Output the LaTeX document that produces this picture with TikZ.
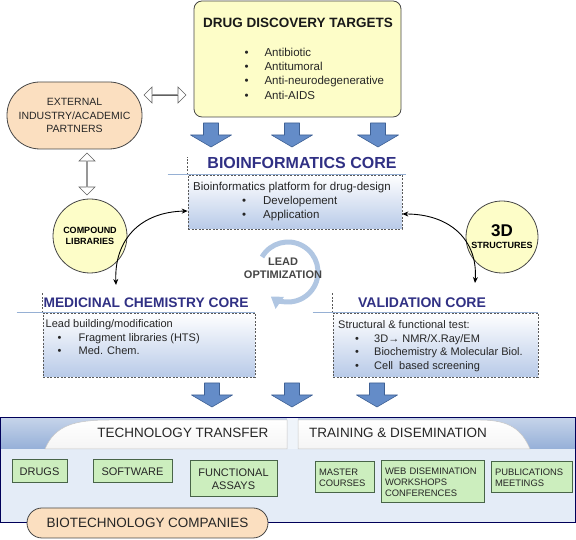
\documentclass[tikz,border=0pt]{standalone}
\usepackage{fontspec}
\setmainfont{Liberation Sans}
\usepackage{tikz}
\usetikzlibrary{arrows.meta,positioning,calc,shapes.arrows}
\definecolor{targetyellow}{RGB}{253,253,200}
\definecolor{partnerpeach}{RGB}{251,223,192}
\definecolor{corenavy}{RGB}{48,48,132}
\definecolor{flowblue}{RGB}{100,140,200}
\definecolor{flowedge}{RGB}{62,96,148}
\definecolor{corefill}{RGB}{184,202,232}
\definecolor{ruleblue}{RGB}{150,176,212}
\definecolor{panelfill}{RGB}{228,236,247}
\definecolor{bandblue}{RGB}{150,176,216}
\definecolor{outgreen}{RGB}{204,238,190}
\definecolor{outedge}{RGB}{72,100,72}
\definecolor{leadring}{RGB}{176,198,226}
\definecolor{darkgray}{RGB}{70,70,70}
\newcommand{\fsz}[2]{\fontsize{#1}{#2}\selectfont}
\newcommand{\bitem}[2][18pt]{\makebox[#1][l]{\textbullet}#2}

\begin{document}
\begin{tikzpicture}[
  x=10pt,y=10pt,
  targetbox/.style={
    rectangle,
    rounded corners=8pt,
    draw=darkgray,
    line width=.8pt,
    fill=targetyellow,
    minimum width=207pt,
    minimum height=116pt
  },
  bigtitle/.style={
    font=\fsz{13.5}{16}\bfseries,
    text=black!90
  },
  partner/.style={
    rectangle,
    rounded corners=33pt,
    draw=darkgray,
    line width=.8pt,
    fill=partnerpeach,
    align=center,
    font=\fsz{10.5}{13.5},
    text=black!85
  },
  libcircle/.style={
    circle,
    draw=darkgray,
    line width=.8pt,
    fill=targetyellow,
    align=center,
    inner sep=0pt,
    font=\fsz{9}{11}\bfseries
  },
  hollowarrow/.style={
    double arrow,
    draw=gray!75!black,
    fill=white,
    line width=.6pt,
    minimum height=42pt,
    minimum width=16pt,
    double arrow head extend=4pt,
    inner sep=0pt
  },
  flowarrow/.style={
    fill=flowblue,
    draw=flowedge,
    line width=.6pt,
    line join=round
  },
  coretitle/.style={
    font=\fsz{13.8}{16}\bfseries,
    text=corenavy
  },
  corebox/.style={
    rectangle,
    draw=gray!70!black,
    dash pattern=on 2pt off 1.5pt,
    line width=.6pt,
    top color=white,
    bottom color=corefill,
    inner sep=0pt
  },
  coredash/.style={
    draw=gray!70!black,
    dash pattern=on 2pt off 1.5pt,
    line width=.6pt
  },
  titlerule/.style={
    draw=ruleblue,
    line width=1.4pt
  },
  bodytext/.style={
    align=left,
    inner sep=0pt,
    text=black!85,
    font=\fsz{11}{13.5}
  },
  linkarr/.style={
    {Stealth[length=6pt,width=5pt]}-{Stealth[length=6pt,width=5pt]},
    line width=.9pt
  },
  leadarc/.style={
    draw=leadring,
    line width=5pt,
    -{Triangle[length=11pt,width=14pt]}
  },
  leadtext/.style={
    align=center,
    font=\fsz{11}{13}\bfseries,
    text=darkgray
  },
  panel/.style={
    rectangle,
    fill=panelfill,
    minimum width=574pt,
    minimum height=104pt,
    inner sep=0pt
  },
  panelborder/.style={
    draw=black!65!blue,
    line width=.8pt
  },
  tab/.style={
    top color=white,
    bottom color=gray!8,
    draw=gray!45,
    line width=.5pt
  },
  tabtext/.style={
    font=\fsz{13.5}{16},
    text=black!85
  },
  outbox/.style={
    rectangle,
    draw=outedge,
    line width=1pt,
    fill=outgreen,
    inner sep=0pt,
    align=center,
    font=\fsz{11}{13},
    text=black!85
  },
  outboxsmall/.style={
    outbox,
    align=left,
    font=\fsz{9.4}{10.8},
    inner xsep=4pt
  },
  company/.style={
    rectangle,
    rounded corners=15pt,
    draw=darkgray,
    line width=.8pt,
    fill=partnerpeach,
    minimum width=241pt,
    minimum height=30pt,
    font=\fsz{13.5}{16},
    text=black!85
  }
]

\useasboundingbox (0,0) rectangle (57.60,54.00);

% drug discovery targets
\node[targetbox] (targets) at (29.75,48.10) {};
\node[bigtitle] (targetstitle) at (29.80,51.70) {DRUG DISCOVERY TARGETS};
\node[bodytext,anchor=west,font=\fsz{11.5}{14.3}] (targetlist) at (24.43,46.65)
  {\bitem[20pt]{Antibiotic}\\ \bitem[20pt]{Antitumoral}\\
   \bitem[20pt]{Anti-neurodegenerative}\\ \bitem[20pt]{Anti-AIDS}};

% partners and links
\node[partner,minimum width=135pt,minimum height=67pt] (partners) at (7.45,42.45)
  {EXTERNAL\\INDUSTRY/ACADEMIC\\PARTNERS};
\node[hollowarrow] (partnerlink) at (16.50,44.50) {};
\node[hollowarrow,shape border rotate=90] (librarylink) at (8.70,36.60) {};

\node[libcircle,minimum size=74pt] (compound) at (9.00,30.40) {COMPOUND\\LIBRARIES};
\node[libcircle,minimum size=72pt] (structures) at (50.20,30.30)
  {{\fsz{17}{17}3D}\\[1pt]STRUCTURES};

% flow arrows
\foreach \x/\n in {21.10/1,29.20/2,37.80/3}{
  \coordinate (topflow\n) at (\x,40.50);
  \filldraw[flowarrow] ($(topflow\n)+(-0.75,1.2)$) -- ++(1.5,0) -- ++(0,-1.2) -- ++(1.3,0)
    -- ++(-2.05,-1.2) -- ++(-2.05,1.2) -- ++(1.3,0) -- cycle;
}
\foreach \x/\n in {21.20/1,29.20/2,37.70/3}{
  \coordinate (lowflow\n) at (\x,14.50);
  \filldraw[flowarrow] ($(lowflow\n)+(-0.75,1.2)$) -- ++(1.5,0) -- ++(0,-1.2) -- ++(1.3,0)
    -- ++(-2.05,-1.2) -- ++(-2.05,1.2) -- ++(1.3,0) -- cycle;
}

% bioinformatics core
\node[corebox,minimum width=214pt,minimum height=54pt] (biobox) at (29.50,33.80) {};
\draw[coredash] (biobox.north west) -- ++(0,1.8);
\draw[titlerule] ($(biobox.north west)+(-2.0,0)$) -- ($(biobox.north east)+(0.4,0)$);
\node[coretitle,font=\fsz{16}{18}\bfseries] (biotitle) at (30.20,37.70) {BIOINFORMATICS CORE};
\node[bodytext,anchor=west,font=\fsz{11.5}{14}] (biotext) at (19.30,33.80)
  {Bioinformatics platform for drug-design\\
   \hspace*{49pt}\bitem[21pt]{Developement}\\
   \hspace*{49pt}\bitem[21pt]{Application}};

% medicinal chemistry core
\node[corebox,minimum width=212pt,minimum height=64pt] (medbox) at (14.90,19.50) {};
\draw[coredash] (medbox.north west) -- ++(0,2.0);
\draw[titlerule] ($(medbox.north west)+(-2.6,0)$) -- (medbox.north east);
\node[coretitle] (medtitle) at (14.60,23.70) {MEDICINAL CHEMISTRY CORE};
\node[bodytext,anchor=west] (medtext) at (4.55,20.25)
  {Lead building/modification\\
   \hspace*{12pt}\bitem[21pt]{Fragment libraries (HTS)}\\
   \hspace*{12pt}\bitem[21pt]{Med. Chem.}};

% validation core
\node[corebox,minimum width=205pt,minimum height=64pt] (valbox) at (43.55,19.50) {};
\draw[coredash] (valbox.north west) -- ++(0,2.0);
\draw[titlerule] ($(valbox.north west)+(-2.0,0)$) -- (valbox.north east);
\node[coretitle,font=\fsz{14}{16}\bfseries] (valtitle) at (42.20,23.70) {VALIDATION CORE};
\node[bodytext,anchor=west] (valtext) at (33.80,19.40)
  {Structural \& functional test:\\
   \hspace*{17pt}\bitem[19pt]{3D→ NMR/X.Ray/EM}\\
   \hspace*{17pt}\bitem[19pt]{Biochemistry \& Molecular Biol.}\\
   \hspace*{17pt}\bitem[19pt]{Cell\ \ based screening}};

% links to the cores
\coordinate (medtip) at (11.60,25.50);
\coordinate (valtip) at (47.50,25.70);
\draw[linkarr] (medtip) .. controls (11.40,30.00) and (14.00,32.80) .. ($(biobox.west)+(0,-0.9)$);
\draw[linkarr] ($(biobox.east)+(0,-1.2)$) .. controls (45.00,32.60) and (47.80,30.00) .. (valtip);

% lead optimization
\coordinate (leadhub) at (28.80,26.80);
\draw[leadarc] ($(leadhub)+(150:3.0)$) arc[start angle=150,end angle=-125,radius=3.0];
\node[leadtext] (leadlabel) at (28.30,27.15) {LEAD\\OPTIMIZATION};

% outputs panel
\node[panel] (outpanel) at (28.80,7.00) {};
\shade[top color=bandblue!55!white,bottom color=bandblue]
  (outpanel.north west) rectangle ($(outpanel.north east)+(0,-3.1)$);
\fill[panelfill!60!white] (28.70,12.20) rectangle (29.80,9.10);
\draw[tab] (4.50,9.10) .. controls (5.50,11.50) and (7.50,12.00) .. (11.00,12.00)
  -- (28.70,12.00) -- (28.70,9.10) -- cycle;
\draw[tab] (29.80,12.00) -- (48.00,12.00) .. controls (51.00,12.00) and (52.20,11.00) .. (53.00,9.10)
  -- (29.80,9.10) -- cycle;
\draw[panelborder] (outpanel.south west) rectangle (outpanel.north east);

\node[tabtext] (techlabel) at (18.30,10.70) {TECHNOLOGY TRANSFER};
\node[tabtext] (trainlabel) at (39.80,10.70) {TRAINING \& DISEMINATION};

\node[outbox,minimum width=55pt,minimum height=23pt] (drugs) at (3.95,6.85) {DRUGS};
\node[outbox,minimum width=79pt,minimum height=23pt] (software) at (13.25,6.85) {SOFTWARE};
\node[outbox,minimum width=87pt,minimum height=36pt] (assays) at (23.35,6.10) {FUNCTIONAL\\ASSAYS};
\node[outboxsmall,text width=51pt,minimum height=31pt] (courses) at (34.45,6.25) {MASTER\\COURSES};
\node[outboxsmall,text width=95pt,minimum height=42pt] (webdis) at (43.25,5.80)
  {WEB DISEMINATION\\WORKSHOPS\\CONFERENCES};
\node[outboxsmall,text width=73pt,minimum height=31pt] (meetings) at (53.15,6.25)
  {PUBLICATIONS\\MEETINGS};

\node[company] (companies) at (14.75,1.70) {BIOTECHNOLOGY COMPANIES};

\end{tikzpicture}
\end{document}
